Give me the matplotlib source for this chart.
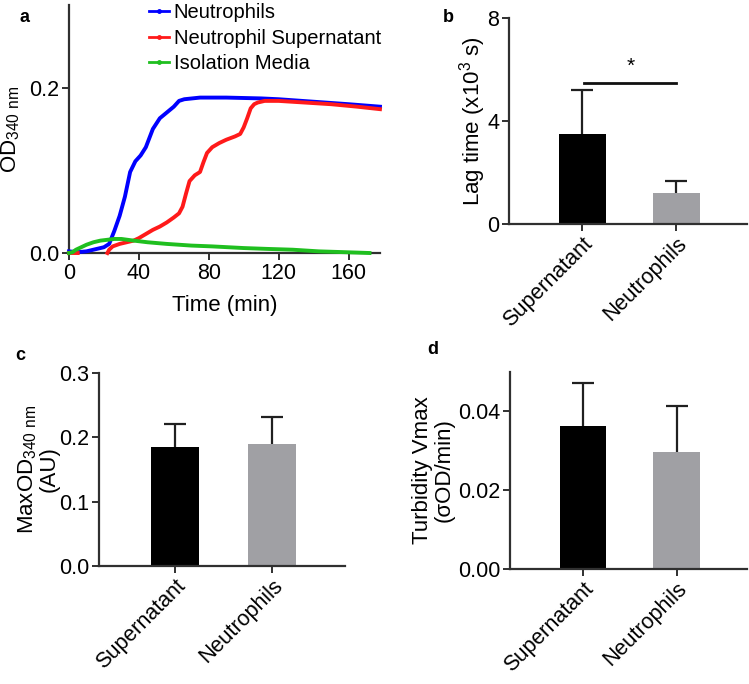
import numpy as np
import matplotlib
matplotlib.use('Agg')
import matplotlib.pyplot as plt
from matplotlib.lines import Line2D

plt.rcParams['font.family'] = ['Liberation Sans', 'DejaVu Sans']
plt.rcParams['mathtext.default'] = 'regular'

# ---- Panel a: turbidity curves ----
t_neut = [0, 5, 10, 16, 20, 23, 26, 29, 32, 35, 38, 41, 44, 48, 52, 56, 60, 63, 66, 75, 90, 110, 120, 140, 160, 178]
od_neut = [0.002, 0.001, 0.002, 0.005, 0.007, 0.011, 0.027, 0.045, 0.068, 0.098, 0.111, 0.118, 0.128, 0.150,
           0.163, 0.170, 0.177, 0.184, 0.186, 0.188, 0.188, 0.187, 0.186, 0.183, 0.180, 0.177]

t_super = [0, 5, np.nan, 22, 23, 25, 29, 33, 37, 40, 44, 48, 52, 56, 60, 63, 65, 67, 69, 72, 75, 77, 79, 82, 86,
           90, 95, 98, 100, 102, 104, 106, 108, 112, 120, 135, 150, 165, 178]
od_super = [0.0, 0.0, np.nan, 0.0, 0.004, 0.008, 0.011, 0.013, 0.015, 0.018, 0.023, 0.028, 0.032, 0.037, 0.043,
            0.048, 0.056, 0.072, 0.087, 0.094, 0.098, 0.110, 0.121, 0.128, 0.133, 0.137, 0.141, 0.144, 0.152,
            0.163, 0.175, 0.180, 0.182, 0.184, 0.184, 0.182, 0.180, 0.177, 0.174]

t_media = [0, 2, 4, 7, 10, 14, 18, 22, 26, 30, 37, 45, 56, 70, 82, 100, 113, 128, 143, 158, 172]
od_media = [0.0, 0.001, 0.004, 0.007, 0.010, 0.013, 0.015, 0.016, 0.017, 0.017, 0.015, 0.013, 0.011, 0.009,
            0.008, 0.006, 0.005, 0.004, 0.002, 0.001, 0.000]

# ---- Bar panels ----
groups = ['Supernatant', 'Neutrophils']
lag_mean = [3.49, 1.19]
lag_err = [1.70, 0.48]
maxod_mean = [0.185, 0.190]
maxod_err = [0.035, 0.041]
vmax_mean = [0.0363, 0.0298]
vmax_err = [0.0108, 0.0116]

BLUE = '#0000ff'
RED = '#ff1a1a'
GREEN = '#1fbf1f'
BAR_COLORS = ['#000000', '#a0a0a4']
SPINE = '#303030'
TICK_FS = 15.5
LABEL_FS = 16

fig = plt.figure(figsize=(7.49, 6.84), dpi=100)


def style_axes(ax):
    for side in ['top', 'right']:
        ax.spines[side].set_visible(False)
    for side in ['left', 'bottom']:
        ax.spines[side].set_linewidth(1.6)
        ax.spines[side].set_color(SPINE)
    ax.tick_params(direction='out', length=5, width=1.4, color=SPINE, labelsize=TICK_FS, pad=2)


def bar_panel(ax, means, errs, ylim, yticks, fmt):
    x = np.arange(len(groups))
    ax.bar(x, means, width=0.5, color=BAR_COLORS, zorder=2)
    eb = ax.errorbar(x, means, yerr=[np.zeros(len(errs)), errs], fmt='none', ecolor='#202020',
                     elinewidth=1.6, capsize=8, capthick=1.6, zorder=1)
    # only the upper cap is drawn
    eb[1][0].set_visible(False)
    ax.set_xlim(-0.78, 1.75)
    ax.set_ylim(*ylim)
    ax.set_yticks(yticks)
    ax.set_yticklabels([fmt.format(v) for v in yticks])
    ax.set_xticks(x)
    ax.set_xticklabels(groups, rotation=45, ha='right', rotation_mode='anchor')
    style_axes(ax)


# a
ax_a = fig.add_axes([0.0921, 0.6301, 0.4152, 0.3626])
ax_a.plot(t_neut, od_neut, color=BLUE, lw=2.8, clip_on=False, zorder=3)
ax_a.plot(t_super, od_super, color=RED, lw=2.8, clip_on=False, zorder=3)
ax_a.plot(t_media, od_media, color=GREEN, lw=2.8, clip_on=False, zorder=3)
ax_a.set_xlim(0, 178)
ax_a.set_ylim(0, 0.3)
ax_a.set_xticks([0, 40, 80, 120, 160])
ax_a.set_yticks([0.0, 0.2])
ax_a.set_yticklabels(['0.0', '0.2'])
ax_a.set_xlabel('Time (min)', fontsize=LABEL_FS, labelpad=8)
ax_a.set_ylabel('OD$_{340\\ nm}$', fontsize=LABEL_FS)
ax_a.yaxis.set_label_coords(-0.15, 0.5)
style_axes(ax_a)
handles = [Line2D([0], [0], color=c, lw=2, marker='o', markersize=2.5)
           for c in [BLUE, RED, GREEN]]
ax_a.legend(handles, ['Neutrophils', 'Neutrophil Supernatant', 'Isolation Media'],
            loc='upper left', bbox_to_anchor=(0.23, 1.04), frameon=False, fontsize=14.5,
            handlelength=1.0, handletextpad=0.25, labelspacing=0.33, borderaxespad=0)

# b
ax_b = fig.add_axes([0.6796, 0.6725, 0.3178, 0.3012])
bar_panel(ax_b, lag_mean, lag_err, (0, 8), [0, 4, 8], '{:g}')
ax_b.set_ylabel('Lag time (x10$^{3}$ s)', fontsize=LABEL_FS)
ax_b.yaxis.set_label_coords(-0.09, 0.5)
ax_b.plot([0.02, 1.0], [5.47, 5.47], color='#101010', lw=2)
ax_b.text(0.51, 5.75, '*', ha='center', va='bottom', fontsize=15)

# c
ax_c = fig.add_axes([0.1322, 0.1725, 0.3284, 0.2822])
bar_panel(ax_c, maxod_mean, maxod_err, (0, 0.3), [0.0, 0.1, 0.2, 0.3], '{:.1f}')
ax_c.set_ylabel('MaxOD$_{340\\ nm}$\n(AU)', fontsize=LABEL_FS, linespacing=1.0)
ax_c.yaxis.set_label_coords(-0.16, 0.5)

# d
ax_d = fig.add_axes([0.6809, 0.1681, 0.3164, 0.288])
bar_panel(ax_d, vmax_mean, vmax_err, (0, 0.05), [0.0, 0.02, 0.04], '{:.2f}')
ax_d.set_ylabel('Turbidity Vmax\n(\u03c3OD/min)', fontsize=LABEL_FS, linespacing=1.0)
ax_d.yaxis.set_label_coords(-0.235, 0.5)

# panel letters
for letter, (px, py) in zip('abcd', [(25, 17), (448, 17), (20, 355), (433, 350)]):
    fig.text(px / 749, 1 - py / 684, letter, fontsize=13, fontweight='bold', ha='center', va='center')

fig.savefig('out.png', dpi=100)
